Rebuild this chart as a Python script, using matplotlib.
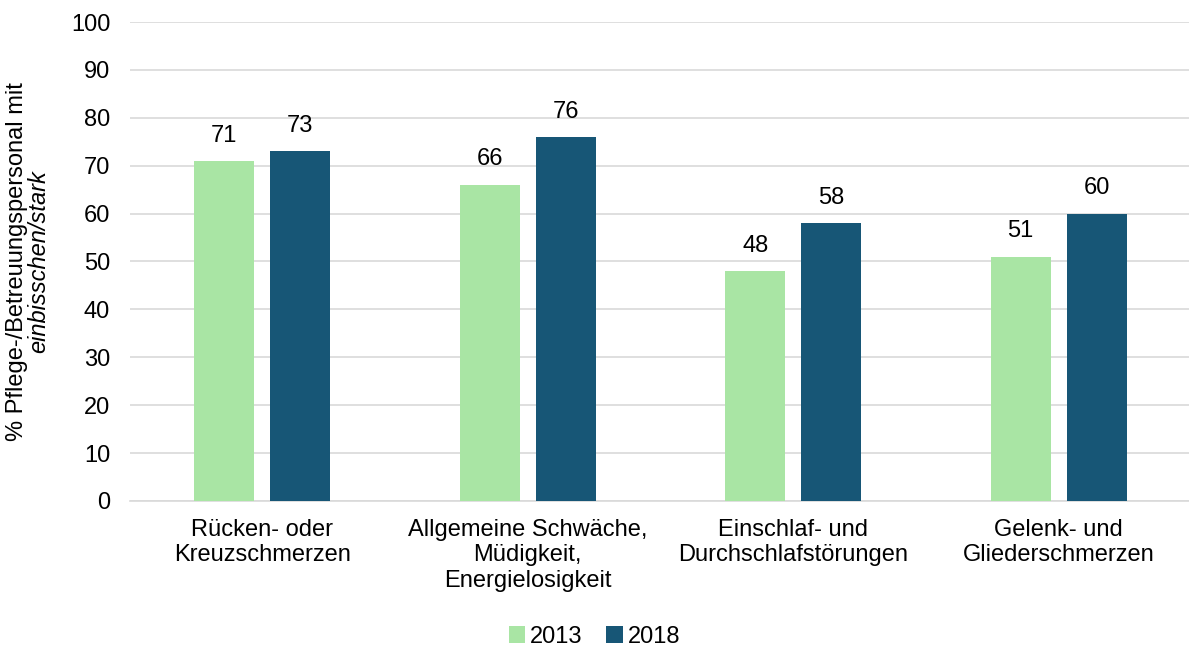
import numpy as np
import matplotlib.pyplot as plt
from matplotlib.patches import Patch

plt.rcParams['font.family'] = ['Liberation Sans', 'DejaVu Sans']

categories = [
    "Rücken- oder\nKreuzschmerzen",
    "Allgemeine Schwäche,\nMüdigkeit,\nEnergielosigkeit",
    "Einschlaf- und\nDurchschlafstörungen",
    "Gelenk- und\nGliederschmerzen",
]
years = ["2013", "2018"]
values_2013 = [71, 66, 48, 51]
values_2018 = [73, 76, 58, 60]
colors = ["#A9E5A4", "#175676"]

FS = 17

fig = plt.figure(figsize=(11.89, 6.48), dpi=100)
ax = fig.add_axes([0.109, 0.227, 0.893, 0.739])

x = np.arange(len(categories))
w = 0.226
off = 0.143
for vals, dx, col in [(values_2013, -off, colors[0]), (values_2018, off, colors[1])]:
    bars = ax.bar(x + dx, vals, width=w, color=col, zorder=3)
    for b, v in zip(bars, vals):
        ax.text(b.get_x() + b.get_width() / 2, v + 3, f"{v}",
                ha="center", va="bottom", fontsize=FS)

ax.set_xlim(-0.5, len(categories) - 0.5)
ax.set_ylim(0, 100)
ax.set_yticks(range(0, 101, 10))
ax.yaxis.grid(True, color="#D9D9D9", linewidth=1.2, zorder=0)
for s in ["top", "right", "left"]:
    ax.spines[s].set_visible(False)
ax.spines["bottom"].set_color("#D9D9D9")
ax.spines["bottom"].set_linewidth(1.2)
ax.tick_params(axis="both", length=0, labelsize=FS)
ax.tick_params(axis="y", pad=14)
ax.tick_params(axis="x", pad=13)
ax.set_xticks(x)
ax.set_xticklabels(categories, fontsize=FS)

# two-line y label, second line in italics
ymid = ax.get_position().y0 + ax.get_position().height * 0.5
fig.text(17 / 1189, ymid, "% Pflege-/Betreuungspersonal mit", rotation=90,
         ha="center", va="center", fontsize=FS)
fig.text(39 / 1189, ymid, "einbisschen/stark", rotation=90, style="italic",
         ha="center", va="center", fontsize=FS)

handles = [Patch(facecolor=c) for c in colors]
fig.legend(handles, years, loc="center", ncol=2, frameon=False,
           fontsize=FS, handlelength=0.7, handleheight=0.7,
           handletextpad=0.2, columnspacing=1.0,
           bbox_to_anchor=(0.5, 1 - 637 / 648))

fig.savefig("out.png", dpi=100)
